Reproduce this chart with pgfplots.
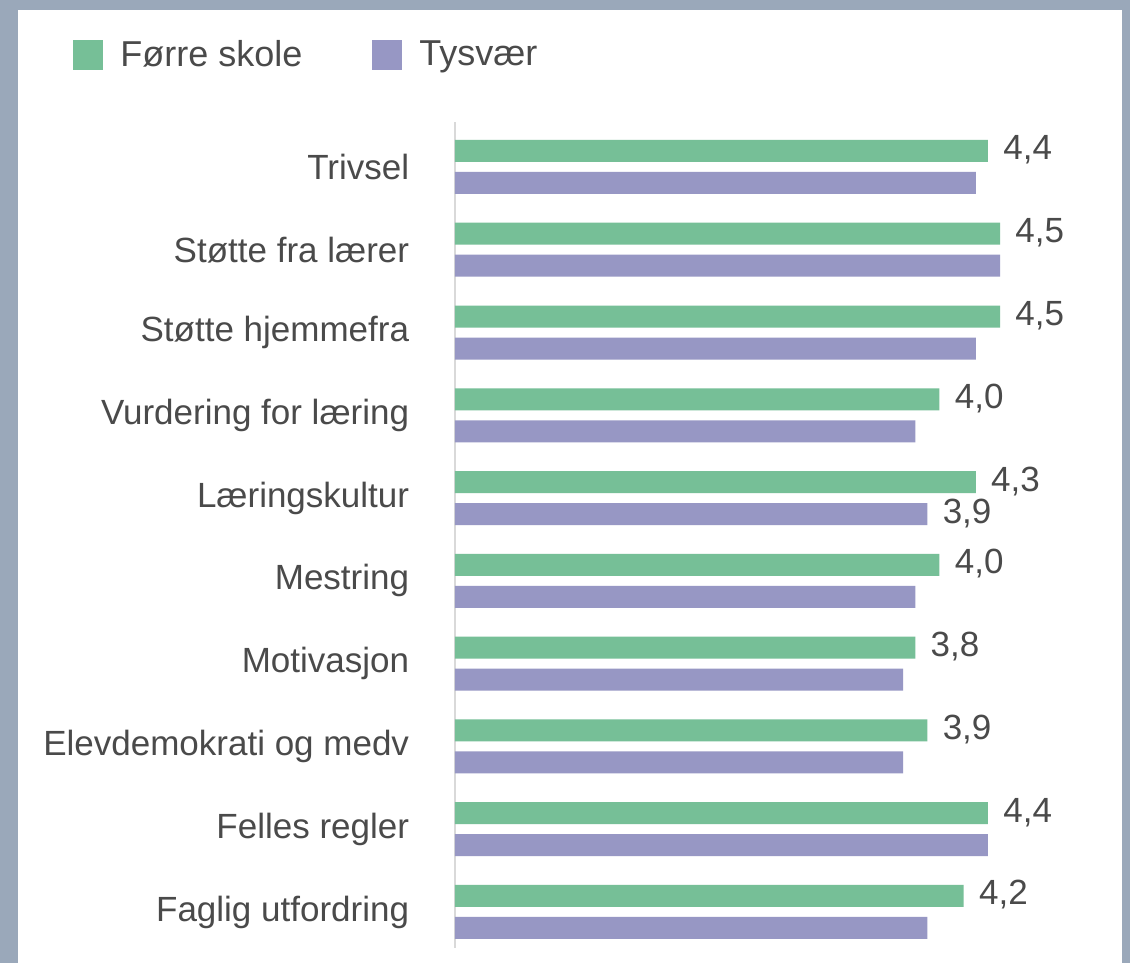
\documentclass[border=0pt]{standalone}
\usepackage{pgfplots}
\pgfplotsset{compat=1.18}
\usepackage{fontspec}
\setmainfont{Liberation Sans}
\definecolor{bgborder}{HTML}{9AA8BA}
\definecolor{cgreen}{HTML}{76BF97}
\definecolor{cpurple}{HTML}{9797C4}
\definecolor{ctext}{HTML}{4A4A4A}
\begin{document}
\begin{tikzpicture}
\fill[bgborder] (0,0) rectangle (565pt,481.5pt);
\fill[white] (9pt,0) rectangle (561pt,476.5pt);
\begin{axis}[
  at={(227.5pt,7.5pt)}, anchor=south west,
  scale only axis, width=302.8pt, height=413pt,
  xmin=0, xmax=5, ymin=-0.435, ymax=9.543,
  xbar, bar width=11pt, clip=false,
  axis x line=none, axis y line*=left,
  y axis line style={draw=black!15, line width=0.6pt, -},
  ytick={0,1,2,3,4,5,6,7,8,9},
  yticklabels={Faglig utfordring, Felles regler, Elevdemokrati og medv, Motivasjon, Mestring, Læringskultur, Vurdering for læring, Støtte hjemmefra, Støtte fra lærer, Trivsel},
  ytick style={draw=none},
  yticklabel style={anchor=east, inner sep=0pt, xshift=-18.5pt, font=\fontsize{17.5}{20}\selectfont, text=ctext},
  every node near coord/.append style={anchor=west, inner sep=0pt, xshift=7.5pt, yshift=0.5pt, font=\fontsize{17.5}{20}\selectfont, text=ctext},
  legend columns=2,
  legend style={at={(axis description cs:-0.6308,1.0811)}, anchor=west, draw=none, fill=none, inner sep=0pt,
    font=\fontsize{18}{20}\selectfont, text=ctext,
    nodes={inner sep=0pt},
    /tikz/every odd column/.append style={column sep=8.5pt},
    /tikz/every even column/.append style={column sep=35pt}},
  legend image code/.code={\draw[#1,/tikz/.cd,draw=none] (0pt,-7.5pt) rectangle (15pt,7.5pt);},
]
\addplot[fill=cgreen, draw=none, bar shift=8pt, point meta=x,
  nodes near coords={\pgfmathprintnumber[fixed,fixed zerofill,precision=1,use comma,assume math mode=true]{\pgfplotspointmeta}}]
  coordinates {(4.2,0) (4.4,1) (3.9,2) (3.8,3) (4.0,4) (4.3,5) (4.0,6) (4.5,7) (4.5,8) (4.4,9)};
\addlegendentry{Førre skole}
\addplot[fill=cpurple, draw=none, bar shift=-8pt]
  coordinates {(3.9,0) (4.4,1) (3.7,2) (3.7,3) (3.8,4) (3.9,5) (3.8,6) (4.3,7) (4.5,8) (4.3,9)};
\addlegendentry{Tysvær}
\addplot[fill=none, draw=none, bar shift=-8pt, forget plot, point meta=x,
  nodes near coords={\pgfmathprintnumber[fixed,fixed zerofill,precision=1,use comma,assume math mode=true]{\pgfplotspointmeta}}]
  coordinates {(3.9,5)};
\end{axis}
\end{tikzpicture}
\end{document}
